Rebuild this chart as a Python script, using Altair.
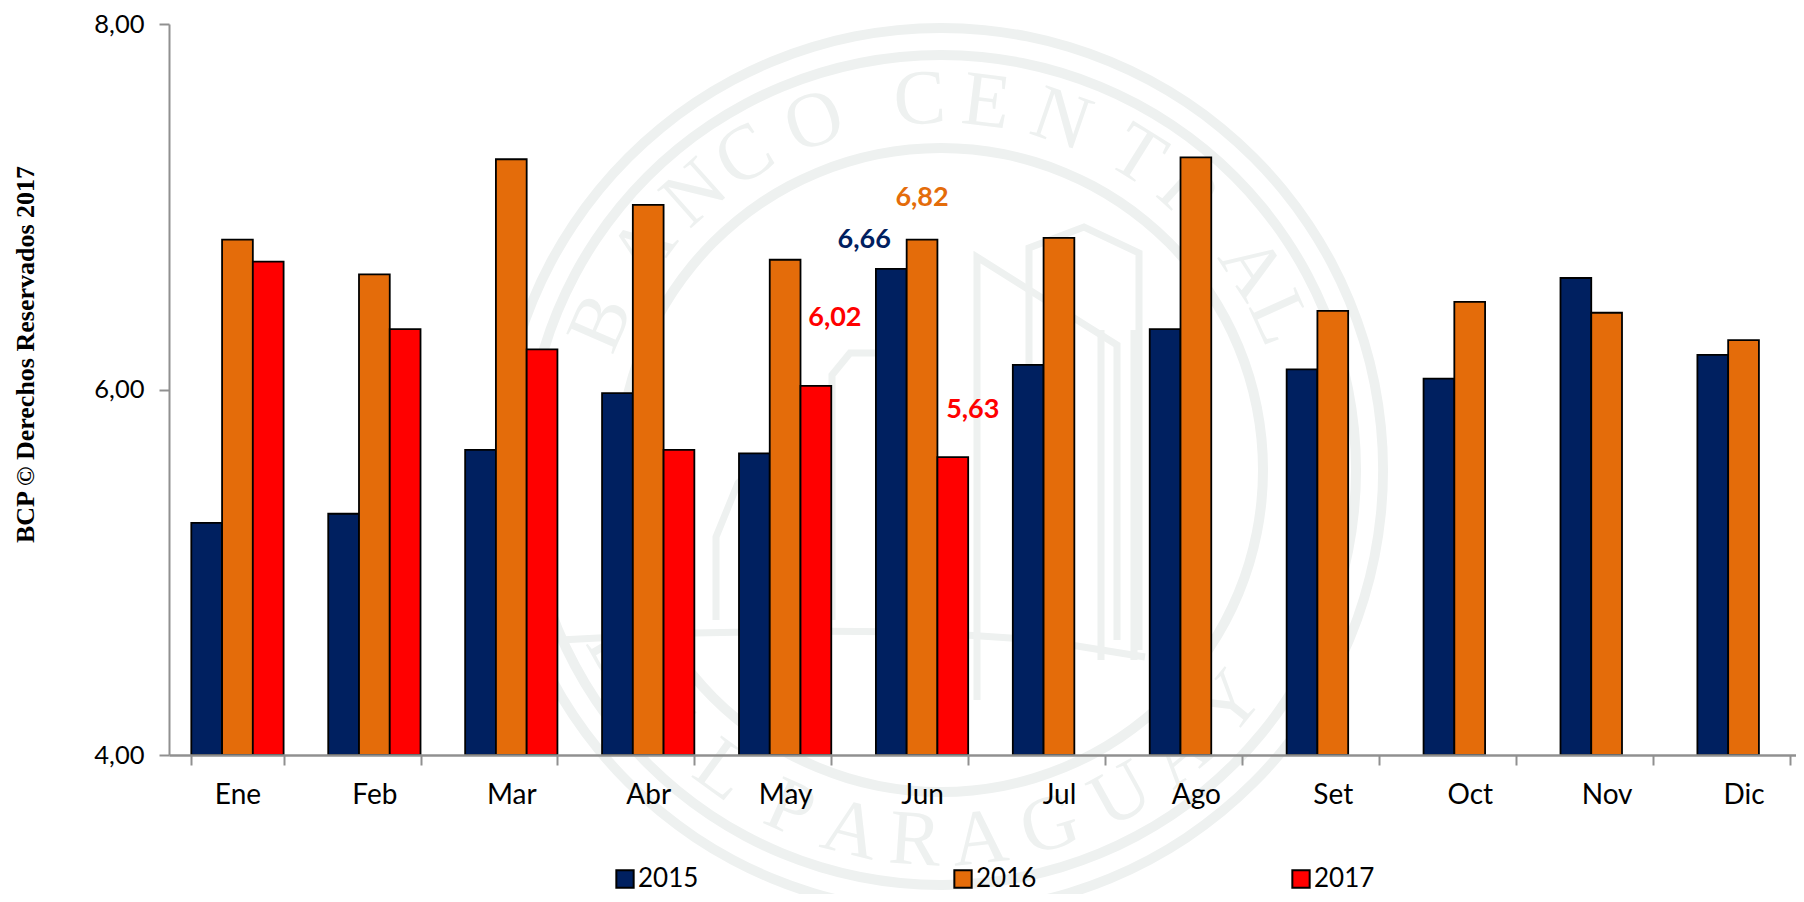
import math
import altair as alt
import pandas as pd

months = ["Ene", "Feb", "Mar", "Abr", "May", "Jun", "Jul", "Ago", "Set", "Oct", "Nov", "Dic"]
v2015 = [5.27, 5.32, 5.67, 5.98, 5.65, 6.66, 6.135, 6.33, 6.11, 6.06, 6.61, 6.19]
v2016 = [6.82, 6.63, 7.26, 7.01, 6.71, 6.82, 6.83, 7.27, 6.43, 6.48, 6.42, 6.27]
v2017 = [6.70, 6.33, 6.22, 5.67, 6.02, 5.63]
years = ["2015", "2016", "2017"]
colors = ["#002060", "#E46C0A", "#FF0000"]
# month, year, value, dx, dy of the four labelled bars
labelled = [("Jun", "2015", 6.66, -27, -29), ("Jun", "2016", 6.82, 0, -42),
            ("May", "2017", 6.02, 19, -68), ("Jun", "2017", 5.63, 20, -47)]

rows = []
for y, vals in zip(years, [v2015, v2016, v2017]):
    rows += [{"mes": m, "anio": y, "valor": v} for m, v in zip(months, vals)]
df = pd.DataFrame(rows)

x = alt.X("mes:N", sort=months, title=None,
          scale=alt.Scale(domain=months, range=[0, 1643], paddingInner=0.326, paddingOuter=0.163),
          axis=alt.Axis(labelAngle=0, labelFont="Lato", labelFontSize=28, labelColor="#000000",
                        labelPadding=30, labelBaseline="middle", tickBand="extent", tickSize=10, tickWidth=2,
                        tickColor="#909090", domainColor="#909090", domainWidth=2.5, grid=False, zindex=1))
xo = alt.XOffset("anio:N", scale=alt.Scale(domain=years, paddingInner=0, paddingOuter=0))
yenc = alt.Y("valor:Q", title="BCP © Derechos Reservados 2017",
             scale=alt.Scale(domain=[4, 8], zero=False, nice=False),
             axis=alt.Axis(values=[4, 6, 8], labelExpr="replace(format(datum.value,'.2f'),'.',',')",
                           labelFont="Lato", labelFontSize=25.5, labelColor="#000000", labelPadding=15,
                           tickSize=10, tickWidth=2, tickColor="#909090", domainColor="#909090", domainWidth=2,
                           grid=False, titleFont="Liberation Serif", titleFontWeight="bold", titleFontSize=26,
                           titleColor="#000000", titleX=-144, titleY=330, titleAngle=270,
                           titleAlign="center", titleBaseline="middle", zindex=1))

bars = alt.Chart(df).mark_bar(stroke="#000000", strokeWidth=1.8).encode(
    x=x, xOffset=xo, y=yenc, y2=alt.datum(4),
    color=alt.Color("anio:N", scale=alt.Scale(domain=years, range=colors),
                    legend=alt.Legend(title=None, orient="none", legendX=443, legendY=842, direction="horizontal",
                                      columns=3, columnPadding=251, symbolType="square", symbolSize=300,
                                      symbolStrokeColor="#000000", symbolStrokeWidth=2, labelFont="Lato",
                                      labelFontSize=26, labelColor="#000000", labelOffset=0, symbolOpacity=1)),
)

# ---- pale seal behind the chart (decoration, in page pixels) ----
PX, PY = 169, 24
CX, CY = 941, 470
SEAL = "#EEF1F0"
rings = [alt.Chart(pd.DataFrame({"a": [0]})).mark_arc(radius=r + 5, radius2=r - 5, theta=0, theta2=2 * math.pi,
                                                      color=SEAL)
         .encode(x=alt.value(CX - PX), y=alt.value(CY - PY)) for r in [442, 415, 322]]

top = list(zip("BANCOCENTRAL", [-66.6, -53.4, -41.7, -32, -20, -3.3, 7, 19, 32, 42, 57, 65.8]))
bottom = list(zip("DELPARAGUAY", [-60, -48, -36, -24, -14, -4, 6, 17, 29, 40, 51]))
let = []
for c, t in top:
    let.append({"c": c, "px": CX + 370 * math.sin(math.radians(t)) - PX,
                "py": CY - 370 * math.cos(math.radians(t)) - PY, "rot": t % 360})
for c, t in bottom:
    let.append({"c": c, "px": CX + 372 * math.sin(math.radians(t)) - PX,
                "py": CY + 372 * math.cos(math.radians(t)) - PY, "rot": (-t) % 360})
letters = alt.Chart(pd.DataFrame(let)).mark_text(font="Liberation Serif", fontSize=78, color=SEAL,
                                                 align="center", baseline="middle").encode(
    x=alt.X("px:Q", scale=None, axis=None), y=alt.Y("py:Q", scale=None, axis=None),
    text="c:N", angle=alt.Angle("rot:Q", scale=None))

shapes = {
    "roof": [(977, 700), (977, 257), (1117, 345), (1117, 640)],
    "tower": [(1029, 700), (1029, 248), (1084, 227), (1139, 253), (1139, 650)],
    "col": [(1101, 330), (1101, 660)],
    "col2": [(1134, 330), (1134, 660)],
    "house": [(716, 620), (716, 537), (738, 483), (830, 400)],
    "door": [(832, 620), (832, 375), (850, 353), (890, 353)],
    "base": [(560, 640), (694, 633), (800, 631), (920, 632), (1040, 640), (1145, 657)],
}
sh = [{"g": k, "o": i, "px": p[0] - PX, "py": p[1] - PY} for k, pts in shapes.items() for i, p in enumerate(pts)]
build = alt.Chart(pd.DataFrame(sh)).mark_line(color=SEAL, strokeWidth=7).encode(
    x=alt.X("px:Q", scale=None, axis=None), y=alt.Y("py:Q", scale=None, axis=None),
    detail="g:N", order="o:Q")

layers = rings + [letters, build, bars]
for (m, yr, v, dx, dy) in labelled:
    lab = pd.DataFrame({"mes": [m], "anio": [yr], "valor": [v], "t": [f"{v:.2f}".replace(".", ",")]})
    layers.append(alt.Chart(lab).mark_text(font="Lato", fontWeight="bold", fontSize=27, dx=dx, dy=dy,
                                           baseline="middle", align="center",
                                           color=colors[years.index(yr)]).encode(
        x=alt.X("mes:N", sort=months), xOffset=alt.XOffset("anio:N"), y=alt.Y("valor:Q"), text="t:N"))

chart = alt.layer(*layers).resolve_scale(x="shared", y="shared").properties(
    width=1627, height=731,
    autosize=alt.AutoSizeParams(type="none"),
    padding={"left": 161, "top": 16, "right": 0, "bottom": 139},
    background="#FFFFFF",
).configure_view(stroke=None)

chart.save("out.html", embed_options={"renderer": "svg", "actions": False})
